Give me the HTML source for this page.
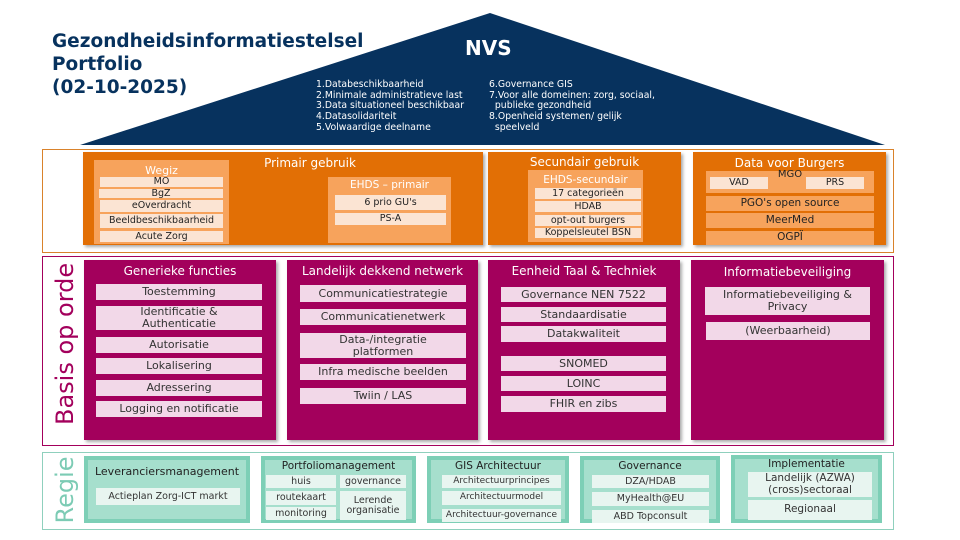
<!DOCTYPE html>
<html><head><meta charset="utf-8"><style>
body{margin:0;width:960px;height:540px;background:#fff;position:relative;overflow:hidden;font-family:"DejaVu Sans","Liberation Sans",sans-serif;}
.a{position:absolute;box-sizing:border-box;}
.c{position:absolute;box-sizing:border-box;display:flex;align-items:center;justify-content:center;text-align:center;line-height:1.05;}
.t{position:absolute;text-align:center;white-space:nowrap;}
.o{background:#e26f05;}
.lo{background:#f7a35c;}
.oi{background:#fbe4d3;color:#222;font-size:9.5px;}
.m{background:#a3005c;box-shadow:2px 2px 3px #aaa;}
.mi{background:#f2d8e8;color:#333;font-size:11px;}
.g{background:#a6dfcd;border:4px solid #7dcfb6;}
.gi{background:#e8f5f0;color:#333;font-size:9.5px;}
</style></head><body>
<svg class="a" style="left:0;top:0" width="960" height="160"><polygon points="80,145 490,13 885,145" fill="#07325e"/></svg>
<div class="a" style="left:52px;top:30px;color:#07325e;font-weight:bold;font-size:18.5px;line-height:23px;">Gezondheidsinformatiestelsel<br>Portfolio<br>(02-10-2025)</div>
<div class="a" style="left:465px;top:36px;color:#fff;font-weight:bold;font-size:20px;">NVS</div>
<div class="a" style="left:316px;top:80px;color:#fff;font-size:9.3px;line-height:10.7px;white-space:nowrap">1.Databeschikbaarheid<br>2.Minimale administratieve last<br>3.Data situationeel beschikbaar<br>4.Datasolidariteit<br>5.Volwaardige deelname</div>
<div class="a" style="left:489px;top:80px;color:#fff;font-size:9.3px;line-height:10.7px;white-space:nowrap">6.Governance GIS<br>7.Voor alle domeinen: zorg, sociaal,<br>&nbsp;&nbsp;publieke gezondheid<br>8.Openheid systemen/ gelijk<br>&nbsp;&nbsp;speelveld</div>

<div class="a" style="left:42px;top:149px;width:852px;height:104px;border:1px solid #d9822b;"></div>
<div class="a o" style="left:83px;top:152px;width:400px;height:93px;box-shadow:2px 2px 3px #aaa"></div>
<div class="t" style="left:230px;top:156px;width:160px;color:#fff;font-size:12px;">Primair gebruik</div>
<div class="a lo" style="left:94px;top:160px;width:135px;height:84px;"></div>
<div class="t" style="left:94px;top:164px;width:135px;color:#fff;font-size:11px;">Wegiz</div>
<div class="c oi" style="left:100px;top:177px;width:123px;height:10px;">MO</div>
<div class="c oi" style="left:99px;top:189px;width:124px;height:9px;">BgZ</div>
<div class="c oi" style="left:100px;top:200px;width:123px;height:12px;">eOverdracht</div>
<div class="c oi" style="left:100px;top:214px;width:123px;height:14px;">Beeldbeschikbaarheid</div>
<div class="c oi" style="left:100px;top:231px;width:123px;height:11px;">Acute Zorg</div>
<div class="a lo" style="left:328px;top:177px;width:123px;height:66px;"></div>
<div class="t" style="left:328px;top:179px;width:123px;color:#fff;font-size:10.5px;">EHDS – primair</div>
<div class="c oi" style="left:335px;top:195px;width:111px;height:15px;">6 prio GU's</div>
<div class="c oi" style="left:335px;top:213px;width:111px;height:12px;">PS-A</div>

<div class="a o" style="left:488px;top:152px;width:193px;height:93px;box-shadow:2px 2px 3px #aaa"></div>
<div class="t" style="left:488px;top:155px;width:193px;color:#fff;font-size:12px;">Secundair gebruik</div>
<div class="a lo" style="left:528px;top:170px;width:115px;height:72px;"></div>
<div class="t" style="left:528px;top:174px;width:115px;color:#fff;font-size:10.5px;">EHDS-secundair</div>
<div class="c oi" style="left:535px;top:188px;width:106px;height:11px;">17 categorieën</div>
<div class="c oi" style="left:535px;top:201px;width:106px;height:11px;">HDAB</div>
<div class="c oi" style="left:535px;top:215px;width:106px;height:11px;">opt-out burgers</div>
<div class="c oi" style="left:535px;top:228px;width:106px;height:10px;">Koppelsleutel BSN</div>

<div class="a o" style="left:693px;top:152px;width:193px;height:93px;box-shadow:2px 2px 3px #aaa"></div>
<div class="t" style="left:693px;top:156px;width:193px;color:#fff;font-size:12px;">Data voor Burgers</div>
<div class="a lo" style="left:706px;top:171px;width:168px;height:22px;"></div>
<div class="t" style="left:770px;top:169px;width:40px;color:#222;font-size:10px;">MGO</div>
<div class="c oi" style="left:710px;top:177px;width:58px;height:12px;">VAD</div>
<div class="c oi" style="left:806px;top:177px;width:58px;height:12px;">PRS</div>
<div class="c lo" style="left:706px;top:196px;width:168px;height:15px;color:#222;font-size:10.5px;">PGO's open source</div>
<div class="c lo" style="left:706px;top:213px;width:168px;height:15px;color:#222;font-size:10.5px;">MeerMed</div>
<div class="c lo" style="left:706px;top:231px;width:168px;height:14px;color:#222;font-size:10.5px;">OGPÏ</div>

<div class="a" style="left:42px;top:256px;width:852px;height:190px;border:1px solid #a3005c;"></div>
<div class="t" style="left:-10px;top:336px;width:150px;color:#a3005c;font-size:24px;transform:rotate(-90deg);">Basis op orde</div>
<div class="a m" style="left:84px;top:260px;width:192px;height:180px;"></div>
<div class="t" style="left:84px;top:264px;width:192px;color:#fff;font-size:12px;">Generieke functies</div>
<div class="c mi" style="left:96px;top:284px;width:166px;height:16px;">Toestemming</div>
<div class="c mi" style="left:96px;top:306px;width:166px;height:24px;">Identificatie &amp;<br>Authenticatie</div>
<div class="c mi" style="left:96px;top:337px;width:166px;height:16px;">Autorisatie</div>
<div class="c mi" style="left:96px;top:358px;width:166px;height:16px;">Lokalisering</div>
<div class="c mi" style="left:96px;top:380px;width:166px;height:16px;">Adressering</div>
<div class="c mi" style="left:96px;top:401px;width:166px;height:16px;">Logging en notificatie</div>

<div class="a m" style="left:287px;top:260px;width:191px;height:180px;"></div>
<div class="t" style="left:287px;top:264px;width:191px;color:#fff;font-size:12px;">Landelijk dekkend netwerk</div>
<div class="c mi" style="left:300px;top:285px;width:166px;height:17px;">Communicatiestrategie</div>
<div class="c mi" style="left:300px;top:309px;width:166px;height:16px;">Communicatienetwerk</div>
<div class="c mi" style="left:300px;top:333px;width:166px;height:25px;">Data-/integratie<br>platformen</div>
<div class="c mi" style="left:300px;top:364px;width:166px;height:16px;">Infra medische beelden</div>
<div class="c mi" style="left:300px;top:388px;width:166px;height:16px;">Twiin / LAS</div>

<div class="a m" style="left:488px;top:260px;width:192px;height:180px;"></div>
<div class="t" style="left:488px;top:264px;width:192px;color:#fff;font-size:12px;">Eenheid Taal &amp; Techniek</div>
<div class="c mi" style="left:501px;top:287px;width:165px;height:15px;">Governance NEN 7522</div>
<div class="c mi" style="left:501px;top:307px;width:165px;height:15px;">Standaardisatie</div>
<div class="c mi" style="left:501px;top:326px;width:165px;height:16px;">Datakwaliteit</div>
<div class="c mi" style="left:501px;top:356px;width:165px;height:15px;">SNOMED</div>
<div class="c mi" style="left:501px;top:376px;width:165px;height:15px;">LOINC</div>
<div class="c mi" style="left:501px;top:396px;width:165px;height:16px;">FHIR en zibs</div>

<div class="a m" style="left:691px;top:260px;width:193px;height:180px;"></div>
<div class="t" style="left:691px;top:265px;width:193px;color:#fff;font-size:12px;">Informatiebeveiliging</div>
<div class="c mi" style="left:705px;top:287px;width:165px;height:28px;">Informatiebeveiliging &amp;<br>Privacy</div>
<div class="c mi" style="left:706px;top:322px;width:164px;height:18px;">(Weerbaarheid)</div>

<div class="a" style="left:42px;top:452px;width:852px;height:78px;border:1px solid #8fd0bd;"></div>
<div class="t" style="left:25px;top:476px;width:80px;color:#7ccbb4;font-size:24px;transform:rotate(-90deg);">Regie</div>
<div class="a g" style="left:84px;top:456px;width:166px;height:67px;"></div>
<div class="t" style="left:84px;top:465px;width:166px;color:#222;font-size:11px;">Leveranciersmanagement</div>
<div class="c gi" style="left:96px;top:488px;width:144px;height:17px;">Actieplan Zorg-ICT markt</div>

<div class="a g" style="left:261px;top:456px;width:155px;height:67px;"></div>
<div class="t" style="left:261px;top:460px;width:155px;color:#222;font-size:10.5px;">Portfoliomanagement</div>
<div class="c gi" style="left:266px;top:475px;width:70px;height:13px;">huis</div>
<div class="c gi" style="left:340px;top:475px;width:66px;height:13px;">governance</div>
<div class="c gi" style="left:266px;top:491px;width:70px;height:14px;">routekaart</div>
<div class="c gi" style="left:266px;top:507px;width:70px;height:13px;">monitoring</div>
<div class="c gi" style="left:340px;top:491px;width:66px;height:29px;">Lerende<br>organisatie</div>

<div class="a g" style="left:427px;top:456px;width:142px;height:67px;"></div>
<div class="t" style="left:427px;top:460px;width:142px;color:#222;font-size:10.5px;">GIS Architectuur</div>
<div class="c gi" style="left:442px;top:475px;width:119px;height:13px;font-size:9px;">Architectuurprincipes</div>
<div class="c gi" style="left:442px;top:491px;width:119px;height:14px;font-size:9px;">Architectuurmodel</div>
<div class="c gi" style="left:442px;top:509px;width:119px;height:13px;font-size:9px;">Architectuur-governance</div>

<div class="a g" style="left:580px;top:456px;width:140px;height:67px;"></div>
<div class="t" style="left:580px;top:460px;width:140px;color:#222;font-size:10.5px;">Governance</div>
<div class="c gi" style="left:592px;top:475px;width:117px;height:13px;">DZA/HDAB</div>
<div class="c gi" style="left:592px;top:492px;width:117px;height:14px;">MyHealth@EU</div>
<div class="c gi" style="left:592px;top:510px;width:117px;height:13px;">ABD Topconsult</div>

<div class="a g" style="left:731px;top:455px;width:151px;height:68px;"></div>
<div class="t" style="left:731px;top:458px;width:151px;color:#222;font-size:10.5px;">Implementatie</div>
<div class="c gi" style="left:748px;top:472px;width:124px;height:25px;font-size:10.5px;">Landelijk (AZWA)<br>(cross)sectoraal</div>
<div class="c gi" style="left:748px;top:500px;width:124px;height:20px;font-size:10.5px;">Regionaal</div>
</body></html>
